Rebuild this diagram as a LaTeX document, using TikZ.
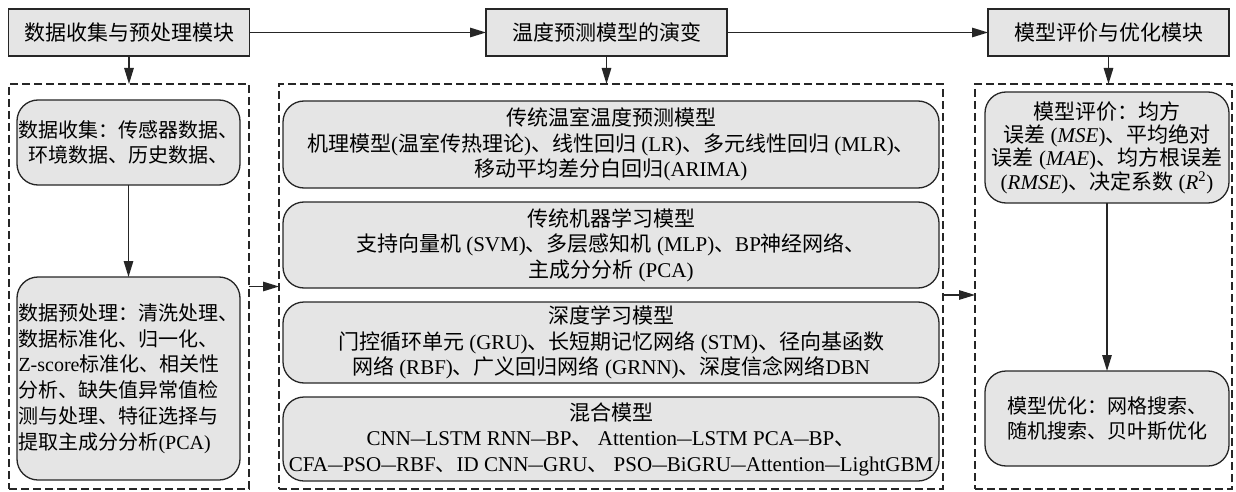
\documentclass[tikz,border=0pt]{standalone}
\usepackage{graphicx}
\usepackage{fontspec}
\setmainfont{Liberation Serif}
\newfontfamily\cjkf{Noto Sans CJK SC}
\newcommand{\zhs}[1]{{\cjkf #1}}
\newcommand{\dsh}{\scalebox{0.7}[1]{—}}
\usetikzlibrary{arrows.meta}
\definecolor{boxgray}{gray}{0.9}
\definecolor{linegray}{gray}{0.15}
\begin{document}
\begin{tikzpicture}[x=1pt,y=-1pt,
  every node/.style={inner sep=0pt,outer sep=0pt,text=black},
  topbox/.style={draw=linegray,fill=boxgray,line width=1.4pt,minimum width=241pt,minimum height=47pt,font=\fontsize{21}{25}\selectfont},
  dbox/.style={draw=linegray,dash pattern=on 8pt off 4pt,line width=1.3pt},
  rbox/.style={draw=linegray,fill=boxgray,line width=1.3pt,rounded corners=21pt},
  lfont/.style={font=\fontsize{20}{25.7}\selectfont},
  mfont/.style={font=\fontsize{21}{25.5}\selectfont},
  efont/.style={font=\fontsize{21}{23.3}\selectfont},
  arr/.style={-{Triangle[length=16pt,width=9.5pt]},line width=1.3pt,draw=linegray}
]
\useasboundingbox (0,0) rectangle (1236,492);

% top modules
\node[topbox] (t1) at (129,32.5) {\zhs{数据收集与预处理模块}};
\node[topbox] (t2) at (606.5,32.5) {\zhs{温度预测模型的演变}};
\node[topbox] (t3) at (1108.5,32.5) {\zhs{模型评价与优化模块}};

% dashed groups
\node[dbox,minimum width=240pt,minimum height=405pt] (d1) at (129,286.5) {};
\node[dbox,minimum width=664pt,minimum height=405pt] (d2) at (611,286.5) {};
\node[dbox,minimum width=257pt,minimum height=405pt] (d3) at (1103.5,286.5) {};

% left boxes
\node[rbox,lfont,minimum width=223pt,minimum height=85pt,align=center] (c1) at (128.5,142.5)
  {\zhs{数据收集：传感器数据、}\\\zhs{环境数据、历史数据、}};
\node[rbox,lfont,minimum width=223pt,minimum height=203pt,align=left] (c2) at (128.5,378.5)
  {\zhs{数据预处理：清洗处理、}\\
   \zhs{数据标准化、归一化、}\\
   Z-score\zhs{标准化、相关性}\\
   \zhs{分析、缺失值异常值检}\\
   \zhs{测与处理、特征选择与}\\
   \zhs{提取主成分分析}(PCA)};

% middle boxes
\node[rbox,mfont,minimum width=656pt,minimum height=87pt,align=center] (ma) at (611,144.5)
  {\zhs{传统温室温度预测模型}\\
   \zhs{机理模型}(\zhs{温室传热理论})\zhs{、线性回归} (LR)\zhs{、多元线性回归} (MLR)\zhs{、}\\
   \zhs{移动平均差分白回归}(ARIMA)};
\node[rbox,mfont,minimum width=656pt,minimum height=86pt,align=center] (mb) at (611,245)
  {\zhs{传统机器学习模型}\\
   \zhs{支持向量机} (SVM)\zhs{、多层感知机} (MLP)\zhs{、}BP\zhs{神经网络、}\\
   \zhs{主成分分析} (PCA)};
\node[rbox,mfont,minimum width=656pt,minimum height=81pt,align=center] (mc) at (611,342.5)
  {\zhs{深度学习模型}\\
   \zhs{门控循环单元} (GRU)\zhs{、长短期记忆网络} (STM)\zhs{、径向基函数}\\
   \zhs{网络} (RBF)\zhs{、广义回归网络} (GRNN)\zhs{、深度信念网络}DBN};
\node[rbox,mfont,minimum width=656pt,minimum height=84pt,align=center] (md) at (611,439)
  {\zhs{混合模型}\\
   CNN\dsh LSTM RNN\dsh BP\zhs{、} Attention\dsh LSTM PCA\dsh BP\zhs{、}\\
   CFA\dsh PSO\dsh RBF\zhs{、}ID CNN\dsh GRU\zhs{、} PSO\dsh BiGRU\dsh Attention\dsh LightGBM};

% right boxes
\node[rbox,efont,minimum width=244pt,minimum height=111pt,align=center] (ev) at (1107,147.5)
  {\zhs{模型评价：均方}\\
   \zhs{误差} (\textit{MSE})\zhs{、平均绝对}\\
   \zhs{误差} (\textit{MAE})\zhs{、均方根误差}\\
   (\textit{RMSE})\zhs{、决定系数} (\textit{R}\textsuperscript{2})};
\node[rbox,lfont,minimum width=244pt,minimum height=95pt,align=left] (op) at (1107,418.5)
  {\zhs{模型优化：网格搜索、}\\
   \zhs{随机搜索、贝叶斯优化}};

% connectors
\draw[arr] (t1) -- (t2);
\draw[arr] (t2) -- (t3);
\draw[arr] (t1.south) -- (d1.north);
\draw[arr] (t2.south) -- (t2.south |- d2.north);
\draw[arr] (t3.south) -- (t3.south |- d3.north);
\draw[arr] (c1.south) -- (c2.north);
\draw[arr] (ev.south) -- (op.north);
\draw[arr] (d1.east) -- (d2.west);
\draw[arr] ([yshift=-8.5pt]d2.east) -- ([yshift=-8.5pt]d3.west);
\end{tikzpicture}
\end{document}
